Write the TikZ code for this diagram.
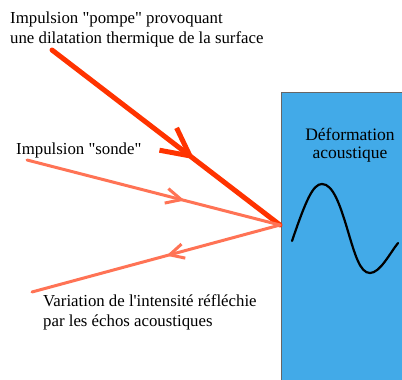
\documentclass[tikz,border=0pt]{standalone}
\usepackage{fontspec}
\setmainfont{Liberation Serif}[Ligatures=TeXOff]
\usetikzlibrary{calc}
\definecolor{pumpred}{RGB}{255,51,0}
\definecolor{probered}{RGB}{255,115,85}
\definecolor{surfblue}{RGB}{66,170,232}
\tikzset{
  lbl/.style={anchor=base west, inner sep=0pt, font=\fontsize{16.8}{19.5}\selectfont, align=left},
  pump/.style={draw=pumpred, line width=5pt, line cap=round},
  probe/.style={draw=probered, line width=3pt, line cap=round},
}
\begin{document}
\begin{tikzpicture}[x=1pt,y=-1pt]
\useasboundingbox (0,0) rectangle (402,380);
% sample
\fill[surfblue] (281,92) rectangle (402,380);
\draw[gray!80!black, line width=0.8pt] (281,380) -- (281,92) -- (402,92);
\node[anchor=base, inner sep=0pt, font=\fontsize{17.5}{18}\selectfont, align=center] (def) at (350,158) {Déformation\\acoustique};
\draw[black, line width=2.2pt, line cap=round] (292,241) .. controls (306,200) and (313,184) .. (322,184) .. controls (333,184) and (340,205) .. (347,228) .. controls (355,255) and (360,273) .. (370,273) .. controls (380,273) and (390,253) .. (398,243);
% coordinates
\coordinate (impact) at (280,225);
\coordinate (pumpstart) at (52,50);
\coordinate (probestart) at (27,160);
\coordinate (reflend) at (32,292);
% beams
\draw[pump] (pumpstart) -- (impact);
\coordinate (pumptip) at ($(pumpstart)!0.605!(impact)$);
\draw[pump, line cap=butt] ($(pumptip)!31pt!27:(pumpstart)$) -- (pumptip) -- ($(pumptip)!31pt!-27:(pumpstart)$);
\draw[probe] (probestart) -- (impact);
\coordinate (probetip) at ($(probestart)!0.61!(impact)$);
\draw[probe, line cap=butt] ($(probetip)!17pt!26:(probestart)$) -- (probetip) -- ($(probetip)!17pt!-26:(probestart)$);
\draw[probe] (impact) -- (reflend);
\coordinate (refltip) at ($(impact)!0.445!(reflend)$);
\draw[probe, line cap=butt] ($(refltip)!16pt!27:(impact)$) -- (refltip) -- ($(refltip)!16pt!-27:(impact)$);
% labels
\node[lbl] (pumplbl) at (10,43) {Impulsion "pompe" provoquant\\une dilatation thermique de la surface};
\node[lbl] (probelbl) at (16,154) {Impulsion "sonde"};
\node[lbl] (refllbl) at (43,326) {Variation de l'intensité réfléchie\\par les échos acoustiques};
\end{tikzpicture}
\end{document}
